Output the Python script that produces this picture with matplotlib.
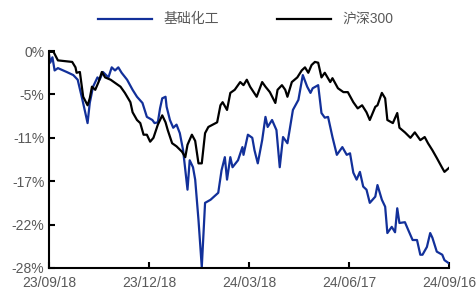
import pandas as pd
import numpy as np
import matplotlib
matplotlib.use("Agg")
import matplotlib.pyplot as plt
import matplotlib.dates as mdates

plt.rcParams['font.family'] = ['Liberation Sans', 'Noto Sans CJK SC', 'DejaVu Sans']

# 基础化工 (cumulative return, %)
chem_dates = [
    "2023-09-18", "2023-09-19", "2023-09-21", "2023-09-23", "2023-09-26", "2023-10-04", "2023-10-10",
    "2023-10-14", "2023-10-18", "2023-10-21", "2023-10-23", "2023-10-25", "2023-10-28", "2023-11-01",
    "2023-11-03", "2023-11-06", "2023-11-11", "2023-11-14", "2023-11-17", "2023-11-20", "2023-11-23",
    "2023-11-28", "2023-12-03", "2023-12-07", "2023-12-12", "2023-12-16", "2023-12-21", "2023-12-23",
    "2023-12-26", "2023-12-28", "2023-12-30", "2024-01-02", "2024-01-03", "2024-01-06", "2024-01-09",
    "2024-01-12", "2024-01-15", "2024-01-18", "2024-01-22", "2024-01-24", "2024-01-27", "2024-01-29",
    "2024-02-01", "2024-02-04", "2024-02-07", "2024-02-12", "2024-02-19", "2024-02-22", "2024-02-25",
    "2024-02-27", "2024-03-01", "2024-03-03", "2024-03-08", "2024-03-12", "2024-03-13", "2024-03-17",
    "2024-03-21", "2024-03-23", "2024-03-26", "2024-03-30", "2024-04-02", "2024-04-04", "2024-04-08",
    "2024-04-12", "2024-04-15", "2024-04-18", "2024-04-22", "2024-04-24", "2024-04-27", "2024-05-02",
    "2024-05-06", "2024-05-10", "2024-05-13", "2024-05-15", "2024-05-20", "2024-05-23", "2024-05-26",
    "2024-05-29", "2024-06-02", "2024-06-06", "2024-06-11", "2024-06-15", "2024-06-18", "2024-06-21",
    "2024-06-24", "2024-06-27", "2024-06-30", "2024-07-03", "2024-07-06", "2024-07-11", "2024-07-13",
    "2024-07-17", "2024-07-20", "2024-07-22", "2024-07-26", "2024-07-29", "2024-07-31", "2024-08-02",
    "2024-08-07", "2024-08-10", "2024-08-14", "2024-08-18", "2024-08-21", "2024-08-23", "2024-08-27",
    "2024-08-30", "2024-09-01", "2024-09-05", "2024-09-10", "2024-09-12", "2024-09-16",
]
chem_vals = [
    -0.5, -1.5, -0.8, -2.5, -2.2, -2.7, -3.1,
    -3.7, -6.1, -8.0, -9.3, -6.7, -4.6, -3.4,
    -3.7, -2.7, -3.4, -2.1, -2.5, -2.1, -2.8,
    -3.7, -5.0, -5.9, -6.7, -8.5, -8.9, -9.3,
    -9.2, -7.4, -6.1, -5.9, -7.2, -8.9, -9.9,
    -9.5, -10.6, -12.8, -17.9, -14.1, -15.0, -16.6,
    -21.8, -27.9, -19.6, -19.2, -18.3, -15.4, -13.7,
    -16.6, -13.7, -15.0, -14.1, -12.4, -13.4, -10.8,
    -11.2, -12.8, -14.5, -11.5, -8.5, -9.8, -8.9,
    -10.2, -15.0, -11.1, -11.9, -10.2, -7.6, -6.3,
    -3.1, -4.6, -5.4, -4.8, -4.4, -8.0, -8.6,
    -8.5, -11.1, -13.4, -12.4, -13.4, -13.2, -15.7,
    -16.6, -15.6, -17.5, -17.9, -19.6, -18.8, -17.3,
    -19.2, -20.1, -23.5, -22.7, -23.4, -20.3, -22.2,
    -22.1, -23.1, -24.4, -24.4, -26.3, -26.3, -25.3,
    -23.5, -24.1, -25.9, -26.3, -27.0, -27.4,
]

# 沪深300 (cumulative return, %)
hs300_dates = [
    "2023-09-18", "2023-09-19", "2023-09-22", "2023-09-26", "2023-10-09", "2023-10-12", "2023-10-13",
    "2023-10-16", "2023-10-19", "2023-10-23", "2023-10-25", "2023-10-27", "2023-10-30", "2023-11-02",
    "2023-11-05", "2023-11-08", "2023-11-13", "2023-11-17", "2023-11-22", "2023-11-26", "2023-12-01",
    "2023-12-03", "2023-12-07", "2023-12-10", "2023-12-13", "2023-12-16", "2023-12-19", "2023-12-22",
    "2023-12-26", "2023-12-30", "2024-01-02", "2024-01-04", "2024-01-08", "2024-01-12", "2024-01-17",
    "2024-01-20", "2024-01-22", "2024-01-26", "2024-01-29", "2024-02-01", "2024-02-04", "2024-02-07",
    "2024-02-10", "2024-02-18", "2024-02-21", "2024-02-23", "2024-02-27", "2024-03-01", "2024-03-05",
    "2024-03-10", "2024-03-13", "2024-03-16", "2024-03-19", "2024-03-25", "2024-03-30", "2024-04-02",
    "2024-04-06", "2024-04-11", "2024-04-13", "2024-04-17", "2024-04-20", "2024-04-22", "2024-04-26",
    "2024-05-01", "2024-05-05", "2024-05-08", "2024-05-11", "2024-05-14", "2024-05-17", "2024-05-20",
    "2024-05-23", "2024-05-26", "2024-05-31", "2024-06-02", "2024-06-07", "2024-06-12", "2024-06-16",
    "2024-06-21", "2024-06-25", "2024-06-29", "2024-07-03", "2024-07-06", "2024-07-11", "2024-07-13",
    "2024-07-17", "2024-07-20", "2024-07-22", "2024-07-27", "2024-07-31", "2024-08-02", "2024-08-07",
    "2024-08-12", "2024-08-16", "2024-08-21", "2024-08-25", "2024-08-28", "2024-09-01", "2024-09-05",
    "2024-09-10", "2024-09-12", "2024-09-16",
]
hs300_vals = [
    0.0, -0.1, -0.1, -1.2, -1.4, -2.1, -2.8,
    -2.7, -5.9, -7.0, -6.1, -4.6, -5.0, -4.0,
    -2.7, -3.4, -3.7, -4.1, -4.6, -5.4, -6.6,
    -7.9, -8.9, -9.3, -10.8, -10.8, -11.7, -11.2,
    -9.5, -8.3, -9.2, -10.2, -11.9, -12.3, -13.0,
    -13.7, -12.1, -10.8, -11.6, -14.5, -14.5, -10.6,
    -9.8, -9.2, -7.0, -6.6, -7.6, -5.4, -5.0,
    -4.0, -4.4, -3.7, -4.6, -5.9, -4.0, -4.6,
    -5.3, -6.7, -5.0, -4.4, -5.0, -5.9, -4.0,
    -3.4, -2.5, -2.1, -2.8, -1.8, -1.4, -1.5,
    -3.4, -2.8, -4.0, -3.5, -4.8, -5.3, -5.3,
    -6.6, -7.4, -7.0, -7.9, -8.9, -7.2, -7.0,
    -5.4, -6.1, -8.9, -9.3, -8.0, -9.9, -10.5,
    -11.2, -10.5, -11.5, -11.1, -11.9, -12.8, -13.8,
    -15.1, -15.6, -15.1,
]

x_ticks = ["2023-09-18", "2023-12-18", "2024-03-18", "2024-06-17", "2024-09-16"]
y_ticks = np.linspace(0, -28, 6)
y_labels = ["0%", "-5%", "-11%", "-17%", "-22%", "-28%"]

fig = plt.figure(figsize=(4.77, 2.97), dpi=100)
ax = fig.add_axes([0.103, 0.098, 0.838, 0.730])

ax.plot(pd.to_datetime(chem_dates), chem_vals, color="#12309a", lw=1.6, label="基础化工")
ax.plot(pd.to_datetime(hs300_dates), hs300_vals, color="black", lw=1.6, label="沪深300")

ax.set_xlim(pd.Timestamp(x_ticks[0]), pd.Timestamp(x_ticks[-1]))
ax.set_ylim(-28, 0)
ax.set_xticks(pd.to_datetime(x_ticks))
ax.xaxis.set_major_formatter(mdates.DateFormatter("%y/%m/%d"))
ax.set_yticks(y_ticks)
ax.set_yticklabels(y_labels)

for s in ["top", "right"]:
    ax.spines[s].set_visible(False)
for s in ["left", "bottom"]:
    ax.spines[s].set_linewidth(1.5)
ax.tick_params(direction="in", length=4, width=1.5, labelsize=10, labelcolor="#595959")
ax.tick_params(axis="x", pad=6)

fig.legend(loc="upper center", bbox_to_anchor=(0.515, 1.0), ncol=2, frameon=False,
           fontsize=10, handlelength=3.9, columnspacing=4.2, labelcolor="#595959")

fig.savefig("out.png", dpi=100)
